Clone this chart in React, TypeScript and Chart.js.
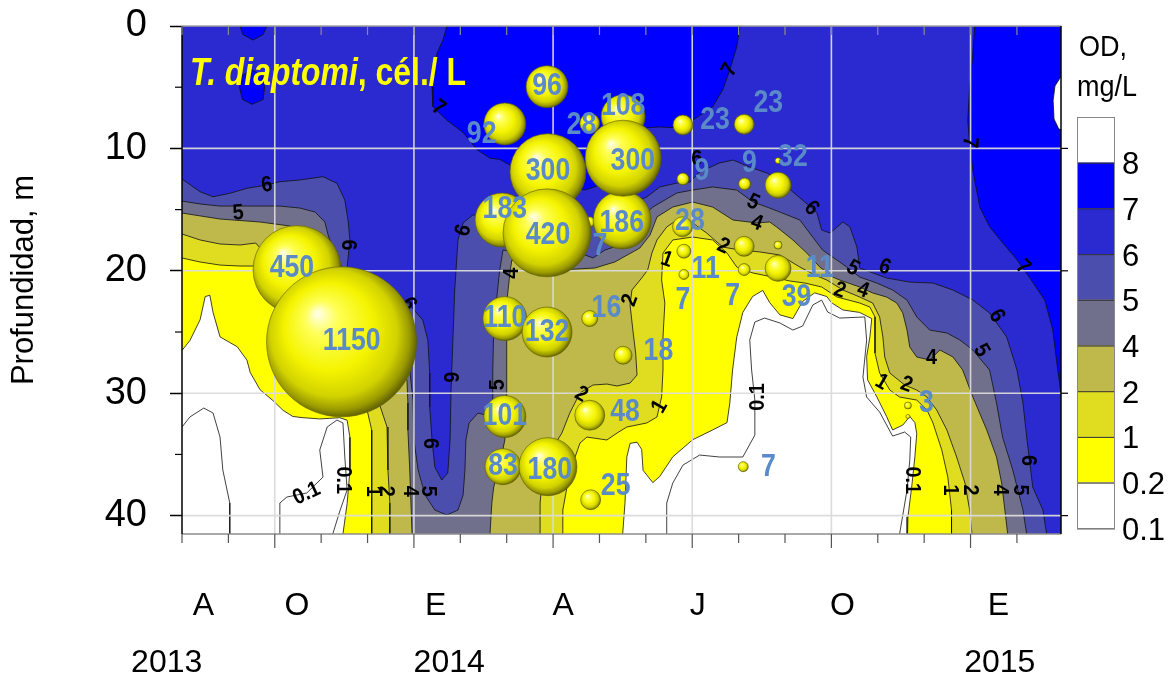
import React, { useEffect, useRef } from 'react';
import { Chart, registerables } from 'chart.js';

Chart.register(...registerables);

const FONT = '"Liberation Sans", Arial, Helvetica, sans-serif';

// ---------- axes: x = months counted from 1 Aug 2013, y = depth (m) ----------
const monthMin = 0;
const monthMax = 18.95;
const depthMin = 0;
const depthMax = 41.5;
const depthTicks = [0, 10, 20, 30, 40];
const depthMinorTicks = [5, 15, 25, 35];
const monthTicks = [0, 1, 2, 3, 4, 5, 6, 7, 8, 9, 10, 11, 12, 13, 14, 15, 16, 17, 18];
const quarterTicks = [2, 5, 8, 11, 14, 17];
const monthLabels = ['A', 'O', 'E', 'A', 'J', 'O', 'E'];
const monthLabelPos = [0.46, 2.48, 5.47, 8.22, 11.12, 14.24, 17.6];
const yearLabels = ['2013', '2014', '2015'];
const yearLabelPos = [-0.33, 5.76, 17.63];

// ---------- legend (OD, mg/L) ----------
const odLevels = ['8', '7', '6', '5', '4', '2', '1', '0.2', '0.1'];
const odColors = ['#ffffff', '#0000ff', '#2a2ad0', '#4c4eae', '#70708c', '#beb94a', '#e0dd21', '#ffff00', '#ffffff'];

// ---------- isolines [month, depth] ----------
const iso02Left = [[0,26.5],[0.17,25.7],[0.39,24.0],[0.5,22.1],[0.6,22.0],[0.67,23.4],[0.82,25.4],[1.19,26.2],[1.4,27.3],[1.47,28.3],[1.68,29.7],[1.96,30.6],[2.18,31.4],[2.39,31.9],[2.61,32.0],[2.97,32.1],[3.4,32.0],[3.56,32.2],[3.62,33.6],[3.62,36.3],[3.56,39.0],[3.47,41.5]];
const iso02Center = [[9.5,41.5],[9.55,39.0],[9.59,35.2],[9.66,34.1],[9.81,34.0],[9.91,34.6],[9.94,36.3],[10.15,37.3],[10.3,36.8],[10.58,35.2],[11.01,33.8],[11.44,33.0],[11.75,32.4],[11.81,30.8],[11.87,28.1],[11.96,25.4],[12.09,23.4],[12.3,22.1],[12.52,21.6],[12.67,22.6],[12.89,23.6],[13.17,23.9],[13.38,22.5],[13.64,21.8],[13.9,22.1],[14.0,22.6],[14.25,23.2],[14.61,23.4],[14.87,23.9],[14.83,25.4],[14.76,27.0],[14.78,28.9],[14.98,30.3],[15.19,31.9],[15.32,33.0],[15.54,32.6],[15.69,31.9],[15.8,32.4],[15.84,33.3],[15.8,35.2],[15.73,37.7],[15.65,40.1],[15.63,41.5]];
const iso1Left = [[0,18.95],[0.39,19.28],[0.82,19.53],[1.25,19.61],[1.57,19.61],[1.9,21.16],[2.54,23.61],[3.3,28.1],[3.99,31.37],[4.09,33.01],[4.09,36.27],[4.09,38.97],[4.09,41.5]];
const iso1Center = [[8.21,41.5],[8.21,39.54],[8.3,37.66],[8.43,35.7],[8.58,34.07],[8.73,33.58],[9.16,33.82],[9.38,33.25],[9.59,32.76],[10.02,32.43],[10.24,31.94],[10.34,30.31],[10.37,28.1],[10.37,25.41],[10.41,22.63],[10.34,20.75],[10.37,18.55],[10.58,17.48],[11.01,17.24],[11.44,17.48],[11.75,18.55],[11.96,19.69],[12.31,20.18],[12.74,20.51],[13.1,20.83],[13.43,21.0],[13.79,21.32],[14.12,22.14],[14.61,22.63],[14.83,22.96],[14.94,23.77],[14.94,25.41],[14.94,26.72],[15.04,28.35],[15.26,29.74],[15.47,30.31],[15.84,30.56],[16.06,31.37],[16.19,32.43],[16.38,34.64],[16.51,36.85],[16.59,39.54],[16.59,41.5]];
const iso2Left = [[0,16.99],[0.39,17.48],[0.82,17.81],[1.25,17.89],[1.59,17.73],[2.0,19.53],[2.76,22.79],[3.51,27.29],[4.27,31.05],[4.42,32.76],[4.44,36.27],[4.48,38.97],[4.48,41.5]];
const iso2Center = [[7.72,41.5],[7.72,38.97],[7.76,37.34],[7.87,35.21],[8.19,33.25],[8.36,31.62],[8.58,29.98],[8.86,29.33],[9.16,29.25],[9.38,29.41],[9.66,29.17],[9.81,28.51],[9.78,26.72],[9.72,24.84],[9.66,22.79],[9.7,21.57],[9.91,20.59],[10.04,19.93],[10.13,18.55],[10.24,17.48],[10.45,16.42],[10.67,15.85],[11.01,16.09],[11.31,16.91],[11.66,18.06],[12.03,18.3],[12.46,18.46],[12.89,18.71],[13.32,19.69],[13.64,20.34],[13.9,20.75],[14.25,21.57],[14.61,22.14],[14.89,22.63],[15.04,23.77],[15.11,25.41],[15.15,27.04],[15.26,28.35],[15.58,29.33],[15.84,29.74],[16.06,30.31],[16.27,31.37],[16.49,33.01],[16.7,35.21],[16.88,37.34],[16.98,39.54],[17.03,41.5]];
const iso4Left = [[0,15.28],[0.82,15.77],[1.68,16.01],[2.33,16.34],[2.76,19.12],[3.41,23.2],[4.27,27.29],[4.85,28.92],[4.87,30.8],[4.87,33.01],[4.91,36.27],[4.96,41.5]];
const iso4Right = [[6.64,41.5],[6.68,38.97],[6.72,37.66],[6.85,35.87],[6.96,33.82],[7.0,30.56],[7.0,28.1],[7.0,25.9],[7.0,22.63],[7.07,20.18],[7.11,19.12],[8.15,19.93],[8.9,19.77],[9.33,19.28],[9.87,18.14],[10.09,17.08],[10.24,15.6],[10.58,14.79],[11.01,14.38],[11.44,14.79],[11.88,15.85],[12.39,16.09],[12.67,16.01],[12.82,16.42],[13.17,17.48],[13.47,18.55],[13.75,19.69],[14.03,20.51],[14.18,20.75],[14.61,21.32],[14.89,21.81],[15.19,22.14],[15.41,22.63],[15.54,23.45],[15.63,24.84],[15.69,26.23],[15.84,27.04],[16.12,27.29],[16.34,26.47],[16.62,27.04],[16.83,28.1],[17.05,30.31],[17.35,33.01],[17.56,35.21],[17.67,37.34],[17.74,39.54],[17.8,41.5]];
const iso5 = [[0,14.3],[0.39,14.54],[0.82,14.71],[1.47,14.71],[2.11,14.71],[2.54,14.87],[2.87,15.2],[3.08,16.01],[3.15,17.08],[3.3,18.71],[3.84,22.39],[4.59,26.06],[4.91,28.1],[4.98,30.56],[5.0,33.82],[5.09,36.27],[5.24,38.32],[5.45,39.54],[5.71,39.95],[5.95,39.54],[6.06,38.32],[6.1,36.27],[6.12,33.82],[6.19,32.43],[6.38,31.62],[6.64,31.86],[6.7,30.96],[6.7,28.1],[6.72,24.84],[6.78,22.39],[6.85,19.93],[6.92,18.3],[7.82,18.95],[8.69,18.71],[8.86,18.95],[9.12,18.3],[9.44,17.89],[9.97,15.44],[10.15,14.79],[10.67,13.64],[11.01,13.4],[11.44,13.15],[11.96,13.4],[12.31,14.38],[12.61,14.79],[12.89,15.2],[13.32,15.85],[13.53,16.91],[13.81,18.3],[14.12,19.12],[14.33,19.69],[14.61,20.51],[14.98,21.0],[15.32,21.57],[15.63,22.39],[15.84,23.77],[16.12,24.84],[16.49,25.08],[16.77,25.65],[17.05,26.47],[17.41,28.1],[17.56,30.8],[17.69,33.58],[17.91,36.27],[18.13,39.54],[18.21,41.5]];
const iso6 = [[0,12.5],[0.39,13.54],[0.67,13.95],[1.03,13.67],[1.4,13.26],[1.83,12.99],[2.11,12.72],[2.54,12.58],[3.04,12.31],[3.34,12.85],[3.51,14.22],[3.58,15.85],[3.62,17.48],[3.56,19.69],[3.62,20.75],[4.38,22.22],[4.87,22.63],[5.19,24.02],[5.3,25.65],[5.34,28.35],[5.34,31.13],[5.39,33.82],[5.45,36.03],[5.6,37.09],[5.73,36.52],[5.78,33.82],[5.8,29.74],[5.84,25.65],[5.88,21.57],[5.95,17.48],[6.06,16.09],[6.27,15.44],[6.38,15.44],[6.85,15.2],[7.72,15.2],[8.36,15.69],[8.84,16.01],[9.22,15.85],[9.66,14.62],[10.02,13.97],[10.3,13.15],[10.67,12.83],[10.95,12.75],[11.16,11.93],[11.59,11.19],[11.88,10.95],[12.24,11.52],[12.61,12.01],[12.89,12.58],[13.17,13.56],[13.58,14.87],[13.69,15.28],[13.79,16.67],[13.97,16.91],[14.25,16.01],[14.4,16.42],[14.55,18.06],[14.61,19.77],[15.19,20.59],[15.69,20.92],[16.19,21.0],[16.62,21.57],[17.05,22.39],[17.41,23.45],[17.78,25.41],[18.0,28.1],[18.13,30.8],[18.21,33.58],[18.34,37.66],[18.56,39.54],[18.64,41.5]];
const iso7Center = [[5.71,0],[5.63,1.1],[5.5,2.2],[5.39,5.0],[5.41,6.6],[5.71,7.7],[6.06,8.7],[6.36,10.1],[6.64,10.8],[6.85,10.9],[7.28,11.8],[8.15,13.0],[8.69,13.4],[9.0,13.0],[9.44,10.9],[9.87,8.9],[10.02,8.3],[10.3,8.25],[10.63,8.3],[11.01,7.7],[11.44,6.6],[11.66,5.2],[11.81,3.6],[11.96,1.7],[12.03,0]];
const iso7Right = [[17.09,0],[17.05,2.2],[16.98,5.0],[16.94,7.7],[16.98,9.6],[17.05,11.8],[17.2,14.8],[17.41,16.4],[17.69,17.7],[18.0,19.1],[18.28,20.6],[18.6,22.4],[18.77,24.8],[18.88,28.1],[18.97,30.6]];
const iso7SpotA = [[1.25,0],[1.31,0.7],[1.53,1.15],[1.75,0.7],[1.83,0]];
const iso7SpotB = [[1.24,5.0],[1.3,4.0],[1.51,3.6],[1.72,4.0],[1.78,5.0],[1.75,6.0],[1.51,6.4],[1.3,6.0],[1.24,5.0]];
const iso8Spot = [[18.97,4.0],[18.82,4.9],[18.78,6.1],[18.8,7.6],[18.9,8.4],[18.97,8.5]];
const iso01Left = [[0,32.76],[0.17,31.94],[0.47,31.21],[0.67,31.62],[0.82,33.58],[0.88,36.27],[1.03,38.97],[1.03,41.5]];
const iso01Loop = [[2.11,41.5],[2.11,38.97],[2.26,38.48],[2.69,38.15],[3.04,36.85],[2.97,34.64],[3.13,32.76],[3.34,32.19],[3.47,32.43],[3.51,35.21],[3.56,37.91],[3.41,39.54],[3.25,41.5]];
const iso01Center = [[10.45,41.5],[10.45,38.97],[10.58,37.34],[10.8,35.87],[11.16,35.05],[11.59,35.21],[12.09,35.21],[12.35,33.42],[12.35,30.56],[12.28,28.1],[12.24,25.65],[12.35,24.18],[12.56,23.86],[12.89,24.26],[13.17,24.84],[13.38,24.51],[13.6,22.79],[13.79,22.39],[13.92,23.37],[14.18,23.86],[14.72,23.77],[14.76,25.65],[14.68,28.68],[14.76,30.31],[15.04,31.54],[15.32,33.5],[15.58,33.17],[15.71,33.58],[15.69,35.46],[15.63,37.91],[15.54,39.95],[15.47,41.5]];

// isoline labels: [text, month, depth, angle]
const isoLabels: [string, number, number, number][] = [
  ['6',1.83,13.0,-8],['5',1.21,15.3,-5],['6',3.59,17.9,90],['7',5.53,6.7,35],['6',6.07,16.7,-75],
  ['7',11.81,3.6,-60],['6',11.1,10.9,0],['5',12.31,14.4,25],['4',12.39,16.1,20],['2',11.67,18.0,25],
  ['1',10.45,19.1,20],['4',7.11,20.2,-90],['7',16.98,9.5,95],['6',13.57,14.9,45],['7',18.13,19.7,45],
  ['5',14.46,19.8,30],['6',15.15,19.7,20],['6',5.78,28.7,90],['6',5.34,34.1,90],['0.1',2.69,38.2,-25],
  ['0.1',3.48,37.1,90],['1',4.12,38.0,90],['2',4.41,38.0,90],['4',4.91,38.0,90],['5',5.31,38.0,90],
  ['5',6.82,29.3,-90],['2',9.66,22.4,-70],['2',8.61,30.1,30],['1',10.3,31.1,-60],['0.1',12.42,30.3,-90],
  ['2',14.18,21.6,20],['4',14.68,21.6,20],['6',17.56,23.7,60],['5',17.23,26.5,60],['4',16.16,27.1,0],
  ['1',15.08,29.1,30],['2',15.62,29.3,20],['0.1',15.73,37.1,90],['1',16.55,37.9,90],['2',16.98,37.9,90],
  ['4',17.63,37.9,90],['5',18.06,37.9,90],['6',18.24,35.5,90],['6',4.88,22.7,60],
];

// ---------- T. diaptomi bubbles ----------
const bubbleX = [7.87,6.96,8.79,9.51,7.89,9.51,6.9,7.87,9.49,8.79,10.8,12.12,10.8,12.13,10.79,10.82,10.82,12.12,12.12,12.85,12.85,12.85,12.85,6.96,7.87,8.79,9.51,6.96,8.79,6.92,7.89,8.81,12.1,15.65,15.65,2.48,3.44];
const bubbleY = [4.96,8.0,7.95,7.41,11.9,10.8,15.85,16.9,15.85,16.0,8.09,8.03,12.5,12.9,16.4,18.4,20.3,18.0,19.9,11.0,13.0,17.9,19.8,23.9,25.0,23.9,26.9,31.9,31.8,36.0,36.0,38.7,36.0,31.0,31.9,19.9,25.8];
const bubbleR = [21,21,10,22,38,38,27,44,29,5,10,10,6,6,10,7,5,10,6,3,13,4,13,22,25,8,9,21,15,18,29,10,5,3.5,2,44,75];
const cellLabels = ['96','92','28','108','300','300','183','420','186','7','23','23','9','9','28','11','7','7','32','11','39','110','132','16','18','101','48','83','180','25','7','3','450','1150'];
const cellLabelX = [7.87,6.46,8.61,9.51,7.89,9.72,6.96,7.89,9.48,9.01,11.49,12.64,11.21,12.23,10.95,11.29,10.8,11.87,13.17,13.75,13.25,6.96,7.87,9.15,10.27,6.96,9.55,6.92,7.93,9.35,12.64,16.05,2.37,3.66];
const cellLabelY = [4.96,8.9,8.1,6.6,11.9,11.1,15.0,17.1,16.1,18.0,7.7,6.3,11.9,11.2,16.0,19.9,22.4,22.1,10.7,19.8,22.2,23.9,25.0,23.1,26.6,31.9,31.6,36.0,36.3,37.6,36.1,30.8,19.8,25.8];

const titleItalic = 'T. diaptomi';
const titleRest = ', cél./ L';
const yTitle = 'Profundidad, m';
const legendTitle = ['OD,', 'mg/L'];

// ---------- helpers ----------
type P = number[][];
const toXY = (pts: P) => pts.map(([x, y]) => ({ x, y }));
function superlevel(leftDepth: number, ...chains: P[]): P {
  const pts: P = [[-1, -1], [-1, leftDepth]];
  chains.forEach((c, i) => {
    if (i > 0) pts.push([c[0][0], 44]);
    pts.push(...c);
    pts.push([c[c.length - 1][0], 44]);
  });
  pts.push([21, 44], [21, -1]);
  return pts;
}
const topLobe = (c: P): P => [[c[0][0], -1], ...c, [c[c.length - 1][0], -1]];
const rightLobe = (c: P): P => [[21, c[0][1]], ...c, [21, c[c.length - 1][1]]];

function drawText(ctx: CanvasRenderingContext2D, text: string, x: number, y: number, font: string, color: string,
  align: CanvasTextAlign = 'center', baseline: CanvasTextBaseline = 'middle', sx = 1, rot = 0) {
  ctx.save();
  ctx.translate(x, y);
  if (rot) ctx.rotate((rot * Math.PI) / 180);
  ctx.scale(sx, 1);
  ctx.font = font;
  ctx.fillStyle = color;
  ctx.textAlign = align;
  ctx.textBaseline = baseline;
  ctx.fillText(text, 0, 0);
  ctx.restore();
}

const sphereFill = (c: any) => {
  const chart = c.chart;
  const raw = c.raw;
  if (!raw || !chart.scales || !chart.scales.x) return '#ffff00';
  const px = chart.scales.x.getPixelForValue(raw.x);
  const py = chart.scales.y.getPixelForValue(raw.y);
  const r = raw.r;
  if (!isFinite(px) || !isFinite(py) || !(r > 0)) return '#ffff00';
  const g = chart.ctx.createRadialGradient(px - r * 0.32, py - r * 0.38, r * 0.02, px - r * 0.05, py - r * 0.05, r * 1.05);
  g.addColorStop(0, '#ffffe0');
  g.addColorStop(0.2, '#ffff55');
  g.addColorStop(0.55, '#f4f400');
  g.addColorStop(0.8, '#d2d200');
  g.addColorStop(0.93, '#9a9a00');
  g.addColorStop(1, '#666600');
  return g;
};

const overlay = {
  id: 'overlay',
  beforeDatasetDraw(chart: any, args: any) {
    if (args.index !== 0) return;
    const { ctx, chartArea: a, scales: { x, y } } = chart;
    ctx.save();
    ctx.beginPath();
    ctx.rect(a.left, a.top, a.right - a.left, a.bottom - a.top);
    ctx.clip();
    ctx.strokeStyle = 'rgba(218,218,218,0.95)';
    ctx.lineWidth = 1.6;
    quarterTicks.forEach((m) => {
      const px = x.getPixelForValue(m);
      ctx.beginPath(); ctx.moveTo(px, a.top); ctx.lineTo(px, a.bottom); ctx.stroke();
    });
    depthTicks.slice(1).forEach((d) => {
      const py = y.getPixelForValue(d);
      ctx.beginPath(); ctx.moveTo(a.left, py); ctx.lineTo(a.right, py); ctx.stroke();
    });
    isoLabels.forEach(([t, m, d, ang]) => {
      drawText(ctx, t, x.getPixelForValue(m), y.getPixelForValue(d), `bold 22px ${FONT}`, '#000', 'center', 'middle', 0.9, ang);
    });
    ctx.restore();
  },
  afterDatasetsDraw(chart: any) {
    const { ctx, chartArea: a, scales: { x, y } } = chart;
    cellLabels.forEach((t, i) => {
      drawText(ctx, t, x.getPixelForValue(cellLabelX[i]), y.getPixelForValue(cellLabelY[i]), `bold 31px ${FONT}`, '#5a8ac8', 'center', 'middle', 0.86);
    });
    const fI = `italic bold 38px ${FONT}`;
    const fB = `bold 38px ${FONT}`;
    ctx.save(); ctx.font = fI; const w1 = ctx.measureText(titleItalic).width * 0.84; ctx.restore();
    drawText(ctx, titleItalic, a.left + 8, a.top + 59, fI, '#ffff00', 'left', 'alphabetic', 0.84);
    drawText(ctx, titleRest, a.left + 8 + w1, a.top + 59, fB, '#ffff00', 'left', 'alphabetic', 0.84);
    ctx.save();
    ctx.lineWidth = 1.5;
    ctx.strokeStyle = '#a0a0a0';
    ctx.beginPath(); ctx.moveTo(a.left, a.top); ctx.lineTo(a.right, a.top); ctx.stroke();
    ctx.strokeStyle = '#8c8c8c';
    ctx.beginPath(); ctx.moveTo(a.left, a.bottom); ctx.lineTo(a.right, a.bottom); ctx.stroke();
    ctx.strokeStyle = '#000';
    ctx.beginPath(); ctx.moveTo(a.left, a.top); ctx.lineTo(a.left, a.bottom); ctx.stroke();
    ctx.beginPath(); ctx.moveTo(a.right, a.top); ctx.lineTo(a.right, a.bottom); ctx.stroke();
    ctx.lineWidth = 1.2;
    monthTicks.forEach((m) => {
      const px = x.getPixelForValue(m);
      ctx.strokeStyle = '#8c8c8c';
      ctx.beginPath(); ctx.moveTo(px, a.top); ctx.lineTo(px, a.top + 9); ctx.stroke();
      ctx.strokeStyle = '#555';
      ctx.beginPath(); ctx.moveTo(px, a.bottom); ctx.lineTo(px, a.bottom + (quarterTicks.includes(m) ? 14 : 9)); ctx.stroke();
    });
    ctx.strokeStyle = '#000';
    depthMinorTicks.forEach((d) => {
      const py = y.getPixelForValue(d);
      ctx.beginPath(); ctx.moveTo(a.left - 7, py); ctx.lineTo(a.left, py); ctx.stroke();
    });
    depthTicks.slice(1).forEach((d) => {
      const py = y.getPixelForValue(d);
      ctx.beginPath(); ctx.moveTo(a.right, py); ctx.lineTo(a.right + 7, py); ctx.stroke();
    });
    ctx.restore();
  },
  afterDraw(chart: any) {
    const { ctx, chartArea: a, scales: { x } } = chart;
    yearLabels.forEach((t, i) => drawText(ctx, t, x.getPixelForValue(yearLabelPos[i]), a.bottom + 129, `32px ${FONT}`, '#000'));
    const lx = a.right + 16, lw = 37, top = a.top + 91, bh = 45.7;
    ctx.save();
    odColors.forEach((c, i) => {
      ctx.fillStyle = c;
      ctx.fillRect(lx, top + i * bh, lw, bh);
      ctx.strokeStyle = '#333';
      ctx.lineWidth = 1;
      ctx.strokeRect(lx + 0.5, top + i * bh + 0.5, lw, bh);
      drawText(ctx, odLevels[i], lx + lw + 8, top + (i + 1) * bh + 3, `31px ${FONT}`, '#000', 'left', 'middle');
    });
    ctx.strokeStyle = '#888';
    ctx.strokeRect(lx + 0.5, top + 0.5, lw, bh * odColors.length);
    ctx.restore();
    drawText(ctx, legendTitle[0], lx + 26, a.top + 22, `30px ${FONT}`, '#000', 'center', 'middle', 0.9);
    drawText(ctx, legendTitle[1], lx + 30, a.top + 62, `30px ${FONT}`, '#000', 'center', 'middle', 0.9);
  },
};

export default function App() {
  const ref = useRef<HTMLCanvasElement>(null);
  useEffect(() => {
    const canvas = ref.current;
    if (!canvas) return;
    const order = bubbleR.map((_, i) => i).sort((p, q) => bubbleR[p] - bubbleR[q]);
    const bubbleData = order.map((i) => ({ x: bubbleX[i], y: bubbleY[i], r: bubbleR[i] }));

    const fills: { pts: P; color: string; order: number }[] = [
      { pts: superlevel(26.5, iso02Left, iso02Center), color: odColors[7], order: 12 },
      { pts: superlevel(18.95, iso1Left, iso1Center), color: odColors[6], order: 11 },
      { pts: superlevel(16.99, iso2Left, iso2Center), color: odColors[5], order: 10 },
      { pts: superlevel(15.28, iso4Left, iso4Right), color: odColors[4], order: 9 },
      { pts: superlevel(14.3, iso5), color: odColors[3], order: 8 },
      { pts: superlevel(12.5, iso6), color: odColors[2], order: 7 },
      { pts: topLobe(iso7Center), color: odColors[1], order: 6 },
      { pts: topLobe(iso7SpotA), color: odColors[1], order: 5 },
      { pts: iso7SpotB, color: odColors[1], order: 4 },
      { pts: rightLobe(iso7Right), color: odColors[1], order: 3 },
      { pts: rightLobe(iso8Spot), color: odColors[0], order: 2 },
    ];
    const fillSets = fills.map((f) => ({
      type: 'line' as const,
      data: toXY(f.pts),
      fill: 'shape',
      backgroundColor: f.color,
      borderColor: '#111',
      borderWidth: 0.8,
      pointRadius: 0,
      tension: 0,
      order: f.order,
    }));
    const lineSets = [iso01Left, iso01Loop, iso01Center].map((l) => ({
      type: 'line' as const,
      data: toXY(l),
      fill: false,
      borderColor: '#111',
      borderWidth: 0.8,
      pointRadius: 0,
      tension: 0,
      order: 1,
    }));

    const chart = new Chart(canvas, {
      type: 'bubble',
      data: {
        datasets: [
          { type: 'bubble', data: bubbleData, backgroundColor: sphereFill, borderColor: 'rgba(95,95,0,0.75)', borderWidth: 0.8, order: 0 } as any,
          ...fillSets,
          ...lineSets,
        ] as any,
      },
      options: {
        responsive: false,
        animation: false,
        devicePixelRatio: 1,
        events: [],
        layout: { autoPadding: false, padding: { left: 0, right: 108, top: 26, bottom: 0 } },
        plugins: { legend: { display: false }, tooltip: { enabled: false } },
        scales: {
          x: {
            type: 'linear',
            min: monthMin,
            max: monthMax,
            position: 'bottom',
            afterBuildTicks: (s: any) => { s.ticks = monthLabelPos.map((v) => ({ value: v })); },
            afterFit: (s: any) => { s.height = 143; s.paddingLeft = 0; s.paddingRight = 0; s.paddingTop = 0; s.paddingBottom = 0; },
            ticks: {
              autoSkip: false, maxRotation: 0, minRotation: 0, padding: 53, color: '#000',
              font: { family: FONT, size: 32 },
              callback: (_v: any, i: number) => monthLabels[i] ?? '',
            },
            grid: { display: false, drawTicks: false },
            border: { display: false },
          },
          y: {
            type: 'linear',
            reverse: true,
            min: depthMin,
            max: depthMax,
            afterBuildTicks: (s: any) => { s.ticks = depthTicks.map((v) => ({ value: v })); },
            afterFit: (s: any) => { s.width = 182; s.paddingTop = 0; s.paddingBottom = 0; s.paddingLeft = 0; s.paddingRight = 0; },
            ticks: { padding: 23, color: '#000', font: { family: FONT, size: 38 }, callback: (v: any) => String(v) },
            grid: { drawOnChartArea: false, drawTicks: true, tickLength: 12, tickColor: '#000', tickWidth: 1.5 },
            border: { display: false },
            title: { display: true, text: yTitle, color: '#000', font: { family: FONT, size: 31 }, padding: { top: 6, bottom: 0 } },
          },
        },
      } as any,
      plugins: [overlay],
    });
    return () => chart.destroy();
  }, []);
  return (
    <div style={{ position: 'fixed', left: 0, top: 0, width: 1169, height: 677, background: '#fff' }}>
      <canvas ref={ref} width={1169} height={677} style={{ display: 'block', width: 1169, height: 677 }} />
    </div>
  );
}
